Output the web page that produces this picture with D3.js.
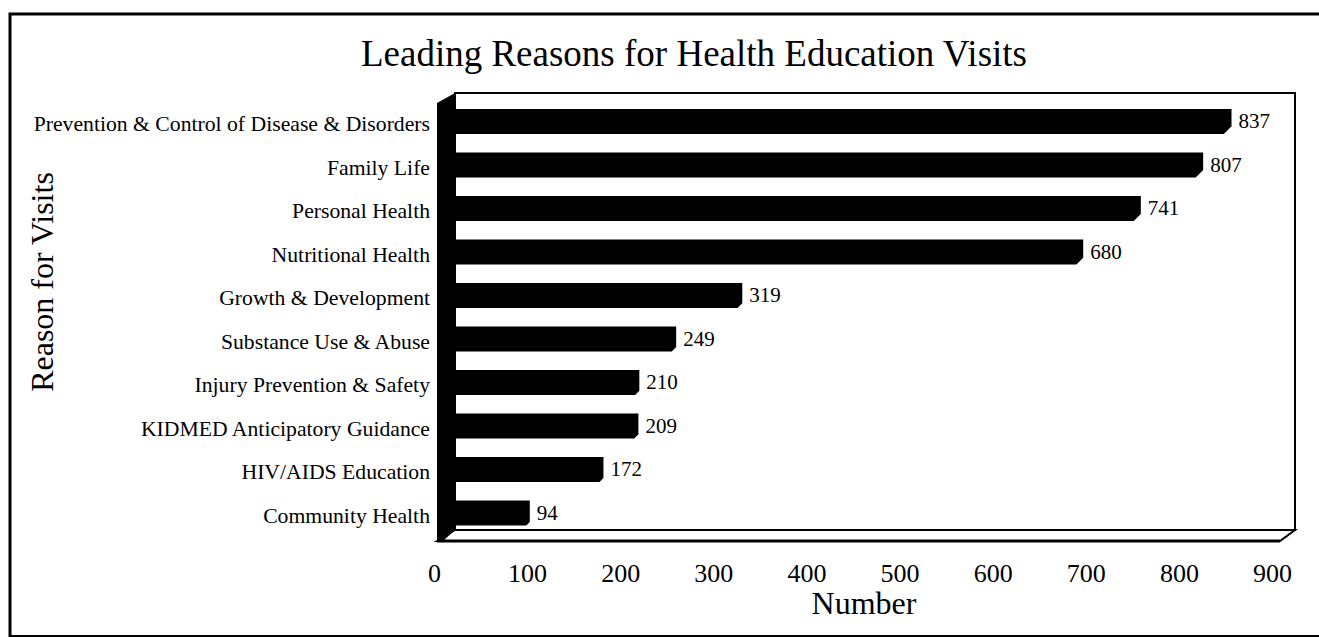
<!DOCTYPE html>
<html>
<head>
<meta charset="utf-8">
<script src="https://cdn.jsdelivr.net/npm/d3@7"></script>
<style>
  body { margin: 0; background: #fff; }
  svg { display: block; font-family: 'Liberation Serif', 'Times New Roman', serif; }
</style>
</head>
<body>
<svg id="chart" width="1319" height="637"></svg>
<script>
const categories = [
  'Prevention & Control of Disease & Disorders',
  'Family Life',
  'Personal Health',
  'Nutritional Health',
  'Growth & Development',
  'Substance Use & Abuse',
  'Injury Prevention & Safety',
  'KIDMED Anticipatory Guidance',
  'HIV/AIDS Education',
  'Community Health'
];
const visits = [837, 807, 741, 680, 319, 249, 210, 209, 172, 94];
const tickValues = [0, 100, 200, 300, 400, 500, 600, 700, 800, 900];

const w = 1319;
const h = 637;
// 3d box: back wall and front edge
const back = { left: 455, right: 1295, top: 93, bottom: 530 };
const front = { left: 437, right: 1280, bottom: 541 };

const svg = d3.select('#chart');

// outer frame
svg.append('path')
  .attr('d', `M10,${h + 5} L10,14 L${w + 5},14`)
  .attr('fill', 'none')
  .attr('stroke', '#000')
  .attr('stroke-width', 3);
svg.append('line')
  .attr('x1', 10).attr('x2', w)
  .attr('y1', 636).attr('y2', 636)
  .attr('stroke', '#000')
  .attr('stroke-width', 2);

// title
svg.append('text')
  .attr('x', 694)
  .attr('y', 66)
  .attr('text-anchor', 'middle')
  .attr('font-size', 37)
  .text('Leading Reasons for Health Education Visits');

// scales
const xBar = d3.scaleLinear().domain([0, 900]).range([441, 1291]);
const xAxisScale = d3.scaleLinear().domain([0, 900]).range([434, 1272]);
const yScale = d3.scaleBand()
  .domain(categories)
  .range([99.75, 534.75])
  .paddingInner(0.425)
  .paddingOuter(0.2125);

// back wall
svg.append('rect')
  .attr('x', back.left)
  .attr('y', back.top)
  .attr('width', back.right - back.left)
  .attr('height', back.bottom - back.top)
  .attr('fill', '#fff')
  .attr('stroke', '#000')
  .attr('stroke-width', 2);

// floor
svg.append('path')
  .attr('d', `M${front.left},${front.bottom} L${back.left},${back.bottom} L${back.right},${back.bottom} L${front.right},${front.bottom} Z`)
  .attr('fill', '#fff')
  .attr('stroke', '#000')
  .attr('stroke-width', 2);
svg.append('line')
  .attr('x1', front.left).attr('x2', front.right)
  .attr('y1', front.bottom).attr('y2', front.bottom)
  .attr('stroke', '#000')
  .attr('stroke-width', 3);

// left wall (solid black)
svg.append('path')
  .attr('d', `M${front.left},${back.top + 10} L${back.left},${back.top} L${back.left},${back.bottom} L${front.left + 6},${front.bottom} L${front.left},${front.bottom} Z`)
  .attr('fill', '#000');

// bars
const barShape = (v, i) => {
  const y0 = yScale(categories[i]);
  const y1 = y0 + yScale.bandwidth();
  const xe = xBar(v);
  const c = 3 + 5 * v / 900;
  return `M${front.left},${y0} L${xe},${y0} L${xe},${y1 - c} L${xe - c},${y1} L${front.left},${y1} Z`;
};

svg.append('g').selectAll('path')
  .data(visits)
  .enter()
  .append('path')
  .attr('d', (d, i) => barShape(d, i))
  .attr('fill', '#000');

// value labels
svg.append('g').selectAll('text')
  .data(visits)
  .enter()
  .append('text')
  .attr('x', (d) => xBar(d) + 7)
  .attr('y', (d, i) => yScale(categories[i]) + yScale.bandwidth() / 2)
  .attr('dy', '0.32em')
  .attr('font-size', 21)
  .text((d) => d);

// category labels
svg.append('g').selectAll('text')
  .data(categories)
  .enter()
  .append('text')
  .attr('x', 430)
  .attr('y', (d) => yScale(d) + yScale.bandwidth() / 2)
  .attr('dy', '0.45em')
  .attr('text-anchor', 'end')
  .attr('font-size', 21.7)
  .text((d) => d);

// x axis
const xAxis = svg.append('g')
  .call(d3.axisBottom(xAxisScale).tickValues(tickValues).tickSize(0).tickFormat(d3.format('d')));
xAxis.select('.domain').remove();
xAxis.selectAll('text')
  .attr('y', 582)
  .attr('dy', 0)
  .attr('fill', '#000')
  .style('font-family', "'Liberation Serif', 'Times New Roman', serif")
  .style('font-size', '26px');

// axis titles
svg.append('text')
  .attr('x', 864)
  .attr('y', 614)
  .attr('text-anchor', 'middle')
  .attr('font-size', 32)
  .text('Number');

svg.append('text')
  .attr('transform', 'translate(53,282) rotate(-90)')
  .attr('text-anchor', 'middle')
  .attr('font-size', 32)
  .text('Reason for Visits');
</script>
</body>
</html>
